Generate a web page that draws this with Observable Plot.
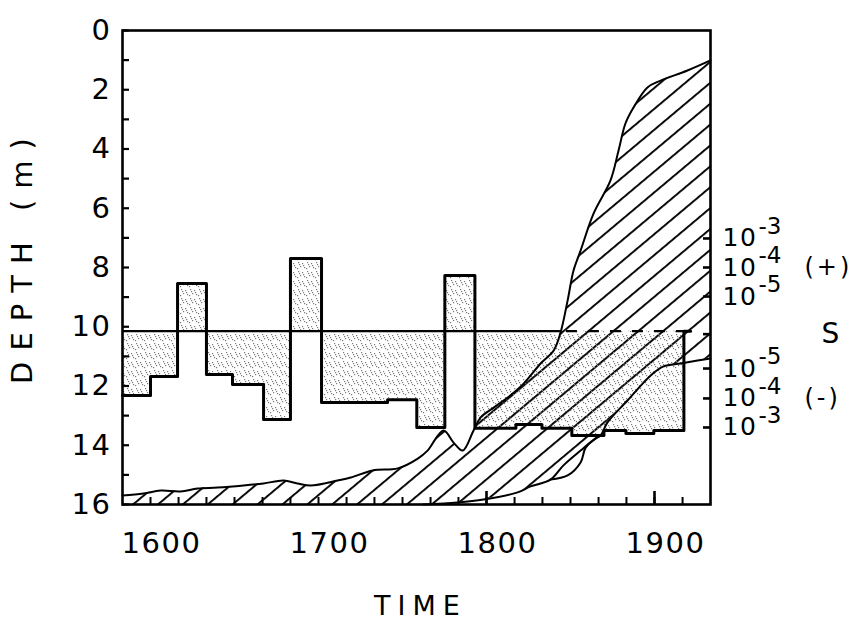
<!DOCTYPE html>
<html><head><meta charset="utf-8">
<script src="https://cdn.jsdelivr.net/npm/d3@7"></script>
<script src="https://cdn.jsdelivr.net/npm/@observablehq/plot@0.6"></script>
<style>html,body{margin:0;padding:0;background:#fff;} #chart svg{display:block}</style>
</head><body><div id="chart"></div>
<script>
// ---- data ----
// S blocks (stepped index plotted on the depth scale)
const blockYears  = [1583.33,1600,1616.1,1633.3,1648.8,1667.3,1683.3,1701.8,1741.1,1758.5,1775.2,1793.1,1817.5,1833.0,1850.8,1869.9,1883.0,1899.6,1917.5,1921.5];
const blockDepths = [12.32,11.68,8.54,11.61,11.95,13.13,7.70,12.56,12.46,13.40,8.27,13.43,13.30,13.43,13.67,13.50,13.60,13.50,10.15,10.15];
const sZero = 10.15;                 // S = 0 level
const zeroLineYears = [1583.33, 1844, 1921.5]; // solid part, then dashed part

// Hatched region: upper (left) boundary
const upperYears  = [1583.33,1595.8,1606.0,1617.9,1628.0,1639.9,1655.4,1667.3,1679.2,1687.5,1695.4,1711.4,1719.2,1732.3,1747.2,1759.1,1764.9,1774.4,1780.4,1785.8,1792.3,1796.5,1804.3,1812.6,1822.1,1832.2,1840.0,1844.1,1848.3,1851.8,1856.0,1863.7,1873.8,1878.6,1882.7,1887.5,1895.8,1903.6,1919.6,1933.33];
const upperDepths = [15.70,15.63,15.53,15.56,15.46,15.43,15.36,15.29,15.19,15.29,15.36,15.19,15.09,14.85,14.78,14.45,14.18,13.50,13.91,14.18,13.50,13.06,12.73,12.39,11.92,11.24,10.80,10.19,9.11,8.10,7.43,6.18,5.06,4.05,3.14,2.60,1.92,1.69,1.35,1.01];
// Hatched region: lower (right) boundary
const lowerYears  = [1762.5,1782.7,1798.2,1818.5,1826.2,1838.1,1845.8,1856.0,1864.9,1867.9,1872.0,1883.9,1897.6,1905.4,1915.5,1925.6,1933.33];
const lowerDepths = [16.0,15.93,15.83,15.59,15.39,15.16,14.68,14.18,13.77,13.67,13.23,12.49,11.65,11.34,11.24,11.14,11.07];
// small lens below the lower boundary
const lensYears  = [1838.1,1848.3,1856.0,1859.0,1863.2,1867.9];
const lensDepths = [15.16,15.02,14.58,14.08,13.85,13.67];

// Axes
const depthTicks = [0,2,4,6,8,10,12,14,16];
const depthMinor = [1,3,5,7,9,11,13,15];
const timeLabels = [1600,1700,1800,1900];
const timeTicks  = [1600,1616.7,1633.3,1650,1666.7,1683.3,1700,1716.7,1733.3,1750,1766.7,1783.3,1800,1816.7,1833.3,1850,1866.7,1883.3,1900,1916.7];
const timeMajor  = [1800,1900];
// right-hand S scale (positions on the depth scale)
const sLevels    = [7.02, 8.0, 8.98, 11.41, 12.42, 13.40];
const sExponents = ["-3","-4","-5","-5","-4","-3"];
const sSignText  = ["(+)", "(-)"];
const sSignLevel = [8.0, 12.42];
const sZeroTick  = 10.25;

// ---- build tables ----
const blocks = blockYears.map((y,i)=>({year:y, depth:blockDepths[i]}));
const rects = blocks.slice(0,-1).map((b,i)=>({x1:b.year, x2:blocks[i+1].year, depth:b.depth}));
const upper = upperYears.map((y,i)=>({year:y, depth:upperDepths[i]}));
const lower = lowerYears.map((y,i)=>({year:y, depth:lowerDepths[i]}));
const lens  = lensYears.map((y,i)=>({year:y, depth:lensDepths[i]}));
const sLab  = sLevels.map((d,i)=>({level:d, exp:sExponents[i]}));
const sSgn  = sSignText.map((s,i)=>({level:sSignLevel[i], sign:s}));

const W=857, H=641, mL=122, mR=147, mT=30, mB=137;
const fw=W-mL-mR, fh=H-mT-mB;
const FF = "DejaVu Sans";

const chart = Plot.plot({
  width:W, height:H, marginLeft:mL, marginRight:mR, marginTop:mT, marginBottom:mB,
  style:{fontFamily:FF, background:"white", color:"black"},
  x:{domain:[1583.33,1933.33], axis:null},
  y:{domain:[0,16], reverse:true, axis:null},
  marks:[
    Plot.areaY(upper, {x:"year", y1:16, y2:"depth", fill:"url(#hatch)", curve:"catmull-rom"}),
    Plot.areaY(lower, {x:"year", y1:16, y2:"depth", fill:"white", curve:"catmull-rom"}),
    Plot.rectY(rects, {x1:"x1", x2:"x2", y1:sZero, y2:"depth", fill:"url(#stipple)"}),
    Plot.ruleY([sZero], {x1:zeroLineYears[0], x2:zeroLineYears[1], stroke:"black", strokeWidth:2.2}),
    Plot.ruleY([sZero], {x1:zeroLineYears[1], x2:zeroLineYears[2], stroke:"black", strokeWidth:2.2, strokeDasharray:"11,11", strokeDashoffset:-6}),
    Plot.line(blocks, {x:"year", y:"depth", curve:"step-after", stroke:"black", strokeWidth:3}),
    Plot.line(upper, {x:"year", y:"depth", curve:"catmull-rom", stroke:"black", strokeWidth:2}),
    Plot.line(lower, {x:"year", y:"depth", curve:"catmull-rom", stroke:"black", strokeWidth:2}),
    Plot.line(lens, {x:"year", y:"depth", curve:"catmull-rom", stroke:"black", strokeWidth:2}),
    Plot.frame({stroke:"black", strokeWidth:2.6}),
    Plot.tickY(depthTicks, {y:d=>d, insetRight:fw-7, stroke:"black", strokeWidth:2.2}),
    Plot.tickY(depthMinor, {y:d=>d, insetRight:fw-7, stroke:"black", strokeWidth:2.2}),
    Plot.tickY([...sLevels, sZeroTick], {y:d=>d, insetLeft:fw-7, stroke:"black", strokeWidth:2.6}),
    Plot.tickX(timeTicks, {x:d=>d, insetTop:fh-7, stroke:"black", strokeWidth:2}),
    Plot.tickX(timeMajor, {x:d=>d, insetTop:fh-13, stroke:"black", strokeWidth:2.6}),
    Plot.text(depthTicks, {y:d=>d, text:d=>String(d), frameAnchor:"left", textAnchor:"end", dx:-11, fontSize:29, fontFamily:FF}),
    Plot.text(timeLabels, {x:d=>d, text:d=>String(d), frameAnchor:"bottom", lineAnchor:"middle", dy:39, dx:11, fontSize:29, fontFamily:FF}),
    Plot.text(sLab, {y:"level", text:()=>"10", frameAnchor:"right", textAnchor:"start", dx:12, fontSize:25, fontFamily:FF}),
    Plot.text(sLab, {y:"level", text:"exp", frameAnchor:"right", textAnchor:"start", dx:48, dy:-12, fontSize:23, fontFamily:FF}),
    Plot.text(sSgn, {y:"level", text:"sign", frameAnchor:"right", textAnchor:"start", dx:94, fontSize:24, fontFamily:FF}),
    Plot.text(["S"], {y:()=>sZeroTick, text:d=>d, frameAnchor:"right", textAnchor:"middle", dx:120, fontSize:28, fontFamily:FF}),
    Plot.text(["TIME"], {text:d=>d, frameAnchor:"bottom", lineAnchor:"middle", textAnchor:"middle", dy:102, dx:4, fontSize:27, fontFamily:FF}),
    Plot.text(["DEPTH (m)"], {text:d=>d, frameAnchor:"left", textAnchor:"middle", rotate:-90, lineAnchor:"middle", dx:-100, dy:-12, fontSize:29, fontFamily:FF})
  ]
});

// patterns
const svg = d3.select(chart);
const defs = svg.insert("defs", ":first-child");
const hatch = defs.append("pattern").attr("id","hatch").attr("patternUnits","userSpaceOnUse")
  .attr("width",16).attr("height",16).attr("patternTransform","rotate(-40)");
hatch.append("rect").attr("x",0).attr("y",7).attr("width",16).attr("height",1.9).attr("fill","black");
const st = defs.append("pattern").attr("id","stipple").attr("patternUnits","userSpaceOnUse")
  .attr("width",9).attr("height",9);
[[1,1],[5,2],[3,5],[7,6],[0,7],[6,4],[2,3]].forEach(([a,b])=>{
  st.append("rect").attr("x",a).attr("y",b).attr("width",1.2).attr("height",1.2).attr("fill","#7a7a7a");
});
// letter spacing for the wide-set labels
svg.selectAll("text").each(function(){
  const t = this.textContent;
  if (t === "TIME") this.setAttribute("letter-spacing","7");
  else if (t === "DEPTH (m)") this.setAttribute("letter-spacing","11");
  else if (t === "(+)" || t === "(-)") this.setAttribute("letter-spacing","3");
  else if (/^\d+$/.test(t)) this.setAttribute("letter-spacing","1.5");
});
document.getElementById("chart").appendChild(chart);
</script>
</body></html>
